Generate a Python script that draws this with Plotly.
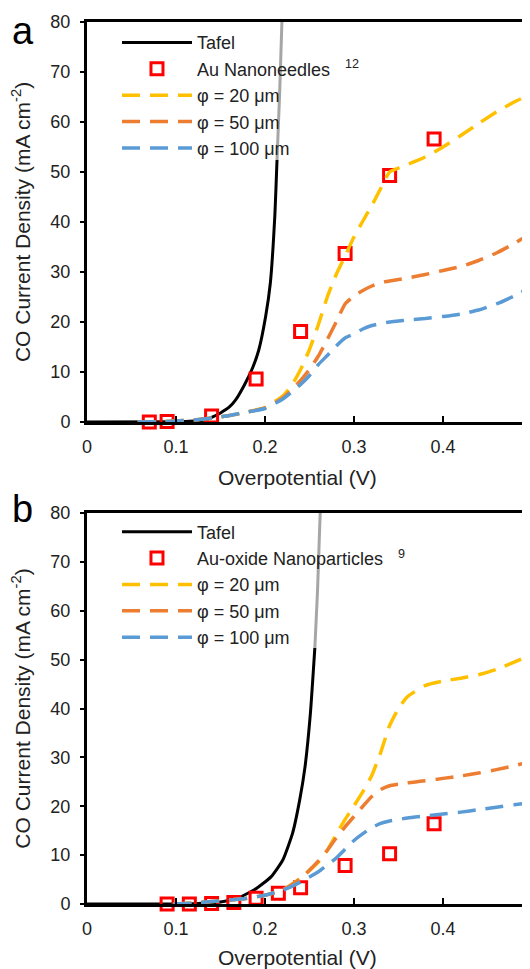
import plotly.graph_objects as go

# ---------------- data: panel a ----------------
tafel_a_eta = [0.0, 0.10, 0.12, 0.133, 0.14, 0.15, 0.16, 0.167, 0.178, 0.186, 0.193, 0.2007, 0.206, 0.211, 0.2135]
tafel_a_j = [0.0, 0.05, 0.2, 0.4, 0.9, 1.8, 3.0, 4.4, 7.8, 10.8, 14.4, 21.1, 27.8, 41.1, 52.4]
tafel_a_hi_eta = [0.2135, 0.2165, 0.219]
tafel_a_hi_j = [52.4, 66.0, 80.0]

exp_a_eta = [0.07, 0.09, 0.14, 0.19, 0.24, 0.29, 0.34, 0.39]
exp_a_j = [0.0, 0.1, 1.2, 8.6, 18.1, 33.7, 49.3, 56.6]

model_a_eta = [0.057, 0.08, 0.10, 0.12, 0.14, 0.16, 0.18, 0.20, 0.22, 0.23, 0.24, 0.25, 0.26, 0.27, 0.28,
               0.29, 0.30, 0.31, 0.32, 0.33, 0.34, 0.35, 0.36, 0.38, 0.40, 0.42, 0.44, 0.46, 0.48, 0.4955]
phi20_a = [0.0, 0.05, 0.2, 0.4, 0.8, 1.3, 2.0, 2.9, 5.2, 7.3, 10.5, 14.5, 19.5, 25.0, 29.5,
           33.2, 37.0, 40.2, 43.3, 46.7, 50.0, 50.8, 51.5, 53.0, 55.0, 57.3, 59.7, 62.0, 64.0, 65.3]
phi50_a = [0.0, 0.05, 0.2, 0.4, 0.8, 1.3, 2.0, 2.8, 4.8, 6.4, 8.3, 10.5, 13.2, 16.5, 20.0,
           23.6, 25.2, 26.3, 27.2, 27.9, 28.2, 28.5, 28.8, 29.5, 30.3, 31.1, 32.3, 33.8, 35.7, 37.4]
phi100_a = [0.0, 0.05, 0.2, 0.4, 0.8, 1.3, 2.0, 2.7, 4.6, 6.0, 7.5, 9.3, 11.5, 13.3, 15.2,
            16.8, 17.6, 18.6, 19.3, 19.7, 20.0, 20.2, 20.4, 20.7, 21.1, 21.6, 22.4, 23.6, 25.2, 26.6]

# ---------------- data: panel b ----------------
tafel_b_eta = [0.0, 0.12, 0.15, 0.169, 0.188, 0.207, 0.220, 0.231, 0.239, 0.245, 0.251, 0.256]
tafel_b_j = [0.0, 0.05, 0.4, 1.2, 2.9, 5.6, 9.0, 14.5, 21.3, 28.1, 39.0, 52.4]
tafel_b_hi_eta = [0.256, 0.259, 0.262]
tafel_b_hi_j = [52.4, 64.0, 80.0]

exp_b_eta = [0.09, 0.115, 0.14, 0.165, 0.19, 0.215, 0.24, 0.29, 0.34, 0.39]
exp_b_j = [0.0, 0.0, 0.1, 0.3, 1.2, 2.2, 3.3, 7.9, 10.3, 16.4]

model_b_eta = [0.097, 0.12, 0.14, 0.16, 0.18, 0.20, 0.22, 0.24, 0.26, 0.27, 0.28, 0.29, 0.30, 0.31,
               0.32, 0.33, 0.34, 0.35, 0.36, 0.38, 0.40, 0.42, 0.44, 0.46, 0.48, 0.4955]
phi20_b = [0.0, 0.2, 0.5, 0.8, 1.2, 1.8, 2.9, 5.3, 8.6, 11.0, 14.2, 17.3, 20.1, 23.0,
           26.3, 31.0, 36.5, 40.0, 42.4, 44.7, 45.6, 46.2, 46.9, 48.0, 49.5, 50.7]
phi50_b = [0.0, 0.2, 0.5, 0.8, 1.2, 1.8, 2.9, 5.2, 8.8, 11.0, 13.5, 15.8, 17.9, 20.0,
           22.0, 23.4, 24.2, 24.5, 24.8, 25.2, 25.7, 26.2, 26.8, 27.5, 28.3, 29.0]
phi100_b = [0.0, 0.2, 0.5, 0.8, 1.2, 1.8, 2.8, 4.5, 6.6, 8.0, 9.4, 11.2, 13.0, 14.4,
            15.6, 16.5, 17.0, 17.3, 17.6, 18.0, 18.4, 18.8, 19.3, 19.8, 20.3, 20.7]

x_ticks = [0, 0.1, 0.2, 0.3, 0.4]
x_ticklabels = ["0", "0.1", "0.2", "0.3", "0.4"]
y_ticks = [0, 10, 20, 30, 40, 50, 60, 70, 80]

series_names = ["Tafel", "φ = 20 μm", "φ = 50 μm", "φ = 100 μm"]
exp_name_a = "Au Nanoneedles   <sup>12</sup>"
exp_name_b = "Au-oxide Nanoparticles   <sup>9</sup>"
x_title = "Overpotential (V)"
y_title = "CO Current Density (mA cm<sup>-2</sup>)"

YELLOW = "#FFC000"
ORANGE = "#ED7D31"
BLUE = "#5B9BD5"
RED = "#FF0000"
GRAY = "#A6A6A6"
DASH = "18px,10px"
FONT = "Arial, Liberation Sans, sans-serif"
TXT = "#222222"

fig = go.Figure()


def add_panel(xa, ya, leg, t_eta, t_j, th_eta, th_j, e_eta, e_j, e_name, m_eta, m20, m50, m100):
    fig.add_trace(go.Scatter(x=t_eta, y=t_j, mode="lines", name=series_names[0], xaxis=xa, yaxis=ya,
                             legend=leg, line=dict(color="black", width=3, shape="spline", smoothing=0.5)))
    fig.add_trace(go.Scatter(x=th_eta, y=th_j, mode="lines", showlegend=False, xaxis=xa, yaxis=ya,
                             line=dict(color=GRAY, width=3, shape="spline", smoothing=0.5)))
    fig.add_trace(go.Scatter(x=e_eta, y=e_j, mode="markers", name=e_name, xaxis=xa, yaxis=ya, legend=leg,
                             cliponaxis=False,
                             marker=dict(symbol="square-open", size=12, color=RED, line=dict(width=3, color=RED))))
    for vals, col, nm in [(m20, YELLOW, series_names[1]), (m50, ORANGE, series_names[2]),
                          (m100, BLUE, series_names[3])]:
        fig.add_trace(go.Scatter(x=m_eta, y=vals, mode="lines", name=nm, xaxis=xa, yaxis=ya, legend=leg,
                                 line=dict(color=col, width=3.5, dash=DASH, shape="spline", smoothing=0.5)))


add_panel("x", "y", "legend", tafel_a_eta, tafel_a_j, tafel_a_hi_eta, tafel_a_hi_j,
          exp_a_eta, exp_a_j, exp_name_a, model_a_eta, phi20_a, phi50_a, phi100_a)
add_panel("x2", "y2", "legend2", tafel_b_eta, tafel_b_j, tafel_b_hi_eta, tafel_b_hi_j,
          exp_b_eta, exp_b_j, exp_name_b, model_b_eta, phi20_b, phi50_b, phi100_b)

xcommon = dict(range=[0, 0.4955], tickvals=x_ticks, ticktext=x_ticklabels, ticks="inside", ticklen=6,
               tickwidth=2, tickcolor="black", showline=True, linewidth=3, linecolor="black", mirror=True,
               showgrid=False, zeroline=False, tickfont=dict(size=18, color=TXT, family=FONT),
               ticklabelstandoff=6, automargin=False)
ycommon = dict(range=[0, 80], tickvals=y_ticks, ticks="outside", ticklen=4, tickwidth=2, tickcolor="black",
               showline=True, linewidth=3, linecolor="black", showgrid=False, zeroline=False,
               tickfont=dict(size=18, color=TXT, family=FONT),
               title=dict(text=y_title, font=dict(size=21, color=TXT, family=FONT), standoff=16),
               ticklabelstandoff=6, automargin=False)

legcommon = dict(font=dict(size=18, color=TXT, family=FONT), bgcolor="rgba(0,0,0,0)", itemwidth=70,
                 xanchor="left", yanchor="top", tracegroupgap=0, itemclick=False)

# page has an 8px body margin, so the figure is 8px smaller than the window
fig.update_layout(
    width=522, height=961,
    margin=dict(l=79, r=2, t=14, b=65, autoexpand=False),
    paper_bgcolor="white", plot_bgcolor="white",
    font=dict(family=FONT, color=TXT),
    xaxis=dict(domain=[0, 1], anchor="y", **xcommon),
    yaxis=dict(domain=[0.5465, 1], anchor="x", **ycommon),
    xaxis2=dict(domain=[0, 1], anchor="y2", **xcommon),
    yaxis2=dict(domain=[0, 0.4433], anchor="x2", **ycommon),
    legend=dict(x=0.068, y=0.9975, **legcommon),
    legend2=dict(x=0.068, y=0.4428, **legcommon),
    shapes=[
        dict(type="line", xref="x domain", yref="y domain", x0=1, x1=1, y0=0, y1=1,
             line=dict(color="#BFBFBF", width=1)),
        dict(type="line", xref="x2 domain", yref="y2 domain", x0=1, x1=1, y0=0, y1=1,
             line=dict(color="#BFBFBF", width=1)),
    ],
    annotations=[
        dict(text="a", xref="paper", yref="paper", x=-0.146, y=0.990, xanchor="center", yanchor="middle",
             showarrow=False, font=dict(size=38, color="black", family=FONT)),
        dict(text="b", xref="paper", yref="paper", x=-0.146, y=0.448, xanchor="center", yanchor="middle",
             showarrow=False, font=dict(size=38, color="black", family=FONT)),
        dict(text=x_title, xref="paper", yref="paper", x=0.478, y=0.484, xanchor="center", yanchor="middle",
             showarrow=False, font=dict(size=21, color=TXT, family=FONT)),
        dict(text=x_title, xref="paper", yref="paper", x=0.478, y=-0.0612, xanchor="center", yanchor="middle",
             showarrow=False, font=dict(size=21, color=TXT, family=FONT)),
    ],
)

fig.write_html("out.html")
